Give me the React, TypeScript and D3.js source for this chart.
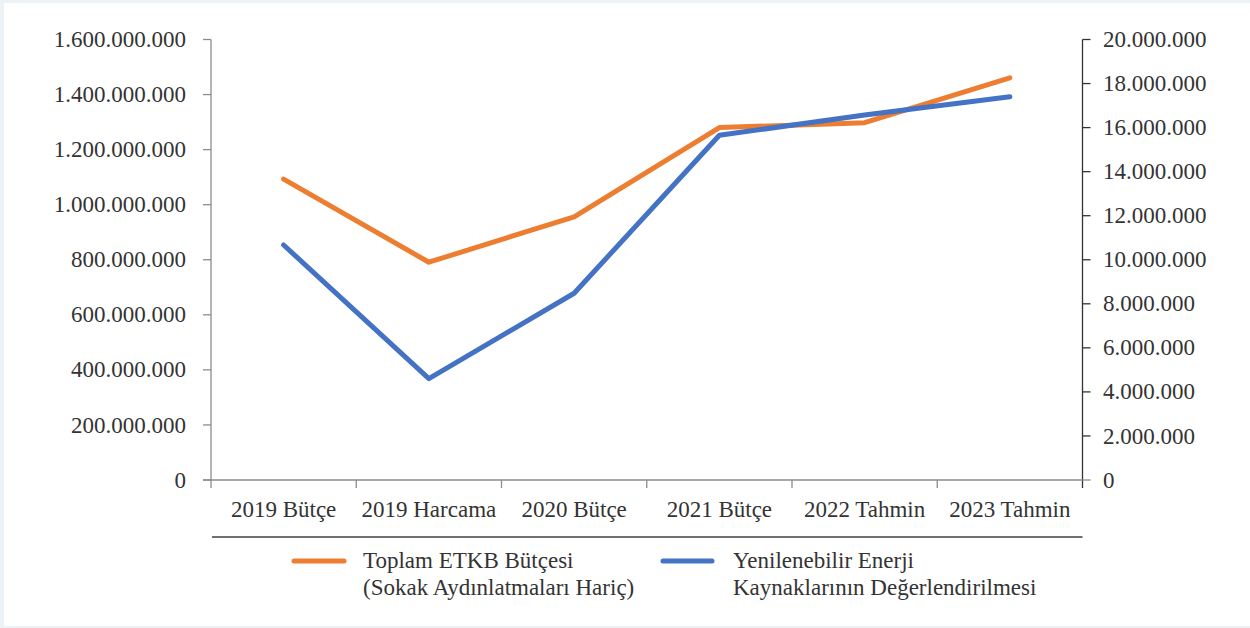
import React from "react";
import * as d3 from "d3";

const categories = ["2019 Bütçe", "2019 Harcama", "2020 Bütçe", "2021 Bütçe", "2022 Tahmin", "2023 Tahmin"];
const toplamEtkb = [1093000000, 791000000, 956000000, 1280000000, 1298000000, 1461000000];
const yenilenebilir = [10670000, 4600000, 8480000, 15650000, 16570000, 17400000];
const leftTicks = [0, 200000000, 400000000, 600000000, 800000000, 1000000000, 1200000000, 1400000000, 1600000000];
const rightTicks = [0, 2000000, 4000000, 6000000, 8000000, 10000000, 12000000, 14000000, 16000000, 18000000, 20000000];
const legendLeft = ["Toplam ETKB Bütçesi", "(Sokak Aydınlatmaları Hariç)"];
const legendRight = ["Yenilenebilir Enerji", "Kaynaklarının Değerlendirilmesi"];

const W = 1250;
const H = 628;
const X0 = 211;
const X1 = 1082.5;
const Y0 = 480;
const Y1 = 39.5;
const ORANGE = "#ED7D31";
const BLUE = "#4472C4";
const TEXT = "#333333";
const FONT = "'Liberation Serif', 'Times New Roman', serif";
const FS = 23;

const fmt = (v: number) => {
  if (v === 0) return "0";
  return String(v).replace(/\B(?=(\d{3})+(?!\d))/g, ".");
};

export default function App() {
  const x = d3.scaleBand<string>().domain(categories).range([X0, X1]).padding(0);
  const yL = d3.scaleLinear().domain([0, 1600000000]).range([Y0, Y1]);
  const yR = d3.scaleLinear().domain([0, 20000000]).range([Y0, Y1]);
  const cx = (c: string) => (x(c) as number) + x.bandwidth() / 2;

  const lineL = d3
    .line<number>()
    .x((_, i) => cx(categories[i]))
    .y((d) => yL(d));
  const lineR = d3
    .line<number>()
    .x((_, i) => cx(categories[i]))
    .y((d) => yR(d));

  const boundaries = categories.map((c) => x(c) as number).concat([X1]);

  return (
    <svg
      width={W}
      height={H}
      style={{ position: "absolute", left: 0, top: 0, display: "block" }}
      fontFamily={FONT}
    >
      <rect x={0} y={0} width={W} height={H} fill="#EDF2F7" />
      <rect x={4} y={3} width={W - 4} height={H - 5} fill="#FFFFFF" />

      {/* left axis */}
      <line x1={X0} x2={X0} y1={Y1} y2={Y0} stroke="#8C8C8C" strokeWidth={1.3} />
      {leftTicks.map((t) => (
        <g key={"l" + t}>
          <line x1={X0 - 8} x2={X0} y1={yL(t)} y2={yL(t)} stroke="#8C8C8C" strokeWidth={1.3} />
          <text x={186} y={yL(t)} dy="0.33em" textAnchor="end" fontSize={FS} fill={TEXT}>
            {fmt(t)}
          </text>
        </g>
      ))}

      {/* right axis */}
      <line x1={X1} x2={X1} y1={Y1} y2={Y0 + 8} stroke="#333333" strokeWidth={1.3} />
      {rightTicks.map((t) => (
        <g key={"r" + t}>
          <line x1={X1} x2={X1 + 8} y1={yR(t)} y2={yR(t)} stroke={t === 0 ? "#8C8C8C" : "#333333"} strokeWidth={1.3} />
          <text x={1103} y={yR(t)} dy="0.33em" textAnchor="start" fontSize={FS} fill={TEXT}>
            {fmt(t)}
          </text>
        </g>
      ))}

      {/* x axis */}
      <line x1={X0 - 8} x2={X1} y1={Y0} y2={Y0} stroke="#8C8C8C" strokeWidth={1.5} />
      {boundaries.slice(0, -1).map((b, i) => (
        <line key={"xt" + i} x1={b} x2={b} y1={Y0} y2={Y0 + 8} stroke="#8C8C8C" strokeWidth={1.3} />
      ))}
      {categories.map((c) => (
        <text key={c} x={cx(c)} y={517} textAnchor="middle" fontSize={FS} fill={TEXT}>
          {c}
        </text>
      ))}

      {/* series */}
      <path d={lineL(toplamEtkb) || ""} fill="none" stroke={ORANGE} strokeWidth={5} strokeLinecap="round" strokeLinejoin="round" />
      <path d={lineR(yenilenebilir) || ""} fill="none" stroke={BLUE} strokeWidth={5} strokeLinecap="round" strokeLinejoin="round" />

      {/* legend */}
      <line x1={X0 + 1} x2={X1} y1={537} y2={537} stroke="#404040" strokeWidth={1.3} />
      <line x1={294} x2={344} y1={561} y2={561} stroke={ORANGE} strokeWidth={5} strokeLinecap="round" />
      {legendLeft.map((s, i) => (
        <text key={s} x={363} y={568 + i * 27} fontSize={FS} fill={TEXT}>
          {s}
        </text>
      ))}
      <line x1={663} x2={712} y1={561} y2={561} stroke={BLUE} strokeWidth={5} strokeLinecap="round" />
      {legendRight.map((s, i) => (
        <text key={s} x={733} y={568 + i * 27} fontSize={FS} fill={TEXT}>
          {s}
        </text>
      ))}
    </svg>
  );
}
